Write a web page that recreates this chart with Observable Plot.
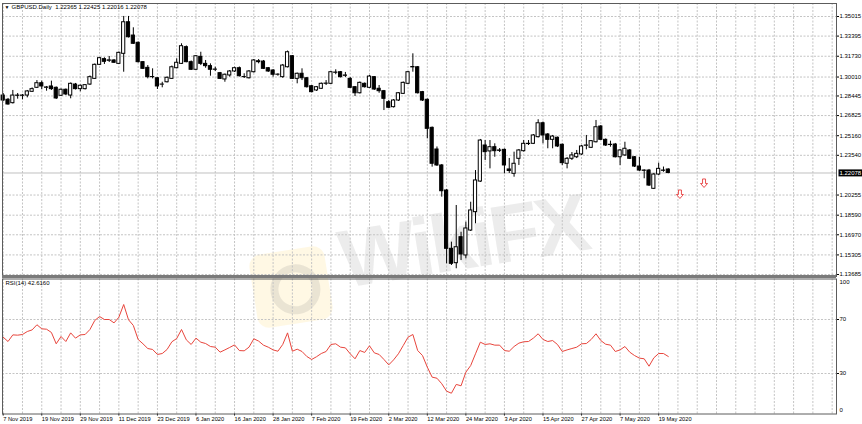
<!DOCTYPE html>
<html>
<head>
<meta charset="utf-8">
<script src="https://cdn.jsdelivr.net/npm/d3@7"></script>
<script src="https://cdn.jsdelivr.net/npm/@observablehq/plot@0.6"></script>
<style>
  body { margin: 0; background: #fff; }
  #chart { position: relative; width: 862px; height: 424px; overflow: hidden; }
  #chart svg { position: absolute; left: 0; }
  .wm { position: absolute; pointer-events: none; }
  #wm-logo { left: 253px; top: 250px; width: 76px; height: 74px; border-radius: 12px;
    background: rgba(255, 214, 90, 0.16); transform: rotate(-9deg); }
  #wm-logo::after { content: ""; position: absolute; left: 17px; top: 15px; width: 34px; height: 34px;
    border-radius: 50%; border: 8px solid rgba(130, 130, 130, 0.17); }
  #wm-text { left: 338px; top: 194px; font: 900 82px "Liberation Sans", Arial, sans-serif;
    color: rgba(160, 160, 160, 0.2); transform: rotate(-9deg); letter-spacing: -4px; }
</style>
</head>
<body>
<div id="chart">
  <div class="wm" id="wm-logo"></div>
  <div class="wm" id="wm-text">WikiFX</div>
</div>
<script>
// GBPUSD daily bars, 7 Nov 2019 .. 21 May 2020 (one entry per trading day)
const opens = [
  1.2848,1.2813,1.2785,1.2848,1.2846,1.2848,1.2879,1.2912,1.2950,1.2912,
  1.2923,1.2912,1.2846,1.2896,1.2848,1.2939,1.2901,1.2901,1.2939,1.2986,
  1.3102,1.3149,1.3135,1.3138,1.3110,1.3193,1.3454,1.3344,1.3284,1.3124,
  1.3077,1.3000,1.2991,1.2938,1.2958,1.2986,1.3074,1.3110,1.3248,1.3124,
  1.3061,1.3168,1.3110,1.3091,1.3061,1.3033,1.2981,1.3014,1.3047,1.3074,
  1.3000,1.2991,1.3041,1.3124,1.3129,1.3074,1.3055,1.3020,1.3000,1.3082,
  1.3173,1.2986,1.3028,1.2991,1.2925,1.2890,1.2904,1.2945,1.2945,1.3036,
  1.3041,1.3011,1.2986,1.2917,1.2867,1.2945,1.2912,1.3000,1.2904,1.2884,
  1.2793,1.2752,1.2807,1.2862,1.2945,1.3081,1.3082,1.2876,1.2813,1.2581,
  1.2402,1.2270,1.2063,1.1581,1.1462,1.1677,1.1526,1.1732,1.1884,1.2137,
  1.2435,1.2386,1.2421,1.2394,1.2399,1.2237,1.2201,1.2325,1.2388,1.2447,
  1.2449,1.2504,1.2619,1.2526,1.2482,1.2499,1.2441,1.2284,1.2325,1.2338,
  1.2361,1.2433,1.2416,1.2462,1.2592,1.2482,1.2441,1.2443,1.2338,1.2353,
  1.2394,1.2338,1.2261,1.2228,1.2228,1.2077,1.2195,1.2228,1.22365
];
const highs = [
  1.2865,1.2824,1.2890,1.2865,1.2857,1.2890,1.2911,1.2972,1.2967,1.2923,
  1.2967,1.2919,1.2902,1.2902,1.2952,1.2948,1.2935,1.2939,1.3010,1.3109,
  1.3163,1.3160,1.3171,1.3146,1.3208,1.3502,1.3502,1.3408,1.3291,1.3129,
  1.3096,1.3069,1.2997,1.2958,1.3001,1.3092,1.3152,1.3276,1.3258,1.3134,
  1.3179,1.3206,1.3138,1.3110,1.3082,1.3039,1.3026,1.3055,1.3082,1.3084,
  1.3028,1.3055,1.3146,1.3146,1.3138,1.3080,1.3063,1.3028,1.3105,1.3216,
  1.3179,1.3034,1.3069,1.2997,1.2931,1.2923,1.2952,1.2972,1.3047,1.3061,
  1.3047,1.3039,1.2997,1.2923,1.2960,1.2952,1.3014,1.3005,1.2931,1.2890,
  1.2807,1.2815,1.2873,1.2960,1.3047,1.3193,1.3088,1.2882,1.2820,1.2588,
  1.2423,1.2278,1.2071,1.1636,1.1939,1.1718,1.1801,1.1966,1.2228,1.2485,
  1.2476,1.2476,1.2449,1.2410,1.2406,1.2328,1.2380,1.2402,1.2476,1.2476,
  1.2526,1.2648,1.2629,1.2534,1.2518,1.2505,1.2447,1.2336,1.2377,1.2394,
  1.2435,1.2518,1.2476,1.2642,1.2600,1.2489,1.2471,1.2452,1.2402,1.2462,
  1.2402,1.2344,1.2338,1.2234,1.2237,1.2204,1.2289,1.2257,1.22425
];
const lows = [
  1.2799,1.2768,1.2778,1.2818,1.2813,1.2829,1.2873,1.2906,1.2896,1.2884,
  1.2890,1.2815,1.2840,1.2848,1.2821,1.2894,1.2879,1.2894,1.2931,1.2981,
  1.3096,1.3105,1.3121,1.3113,1.3105,1.3041,1.3324,1.3270,1.3117,1.3063,
  1.2986,1.2986,1.2898,1.2912,1.2952,1.2981,1.3069,1.3105,1.3119,1.3055,
  1.3055,1.3096,1.3074,1.3008,1.3047,1.2981,1.2958,1.3000,1.3039,1.3001,
  1.2989,1.2985,1.3034,1.3110,1.3063,1.3039,1.3000,1.3008,1.2991,1.3076,
  1.2981,1.2945,1.2972,1.2910,1.2871,1.2882,1.2898,1.2931,1.2939,1.3020,
  1.2993,1.2997,1.2906,1.2840,1.2861,1.2910,1.2906,1.2890,1.2867,1.2724,
  1.2741,1.2745,1.2799,1.2857,1.2939,1.3041,1.2861,1.2799,1.2490,1.2256,
  1.2262,1.2008,1.1457,1.1443,1.1416,1.1484,1.1498,1.1724,1.1788,1.2129,
  1.2311,1.2242,1.2338,1.2377,1.2201,1.2204,1.2173,1.2270,1.2381,1.2435,
  1.2443,1.2497,1.2449,1.2408,1.2408,1.2418,1.2270,1.2242,1.2311,1.2327,
  1.2353,1.2399,1.2410,1.2456,1.2476,1.2427,1.2421,1.2332,1.2270,1.2344,
  1.2319,1.2253,1.2220,1.2160,1.2096,1.2071,1.2187,1.2214,1.22016
];
const closes = [
  1.2807,1.2774,1.2848,1.2846,1.2848,1.2882,1.2901,1.2950,1.2923,1.2915,
  1.2901,1.2824,1.2896,1.2857,1.2945,1.2901,1.2929,1.2934,1.3000,1.3102,
  1.3157,1.3127,1.3139,1.3119,1.3201,1.3454,1.3330,1.3276,1.3124,1.3069,
  1.3000,1.3001,1.2923,1.2939,1.2995,1.3082,1.3119,1.3256,1.3124,1.3061,
  1.3173,1.3110,1.3091,1.3061,1.3063,1.2986,1.3020,1.3047,1.3074,1.3008,
  1.3001,1.3047,1.3138,1.3132,1.3069,1.3047,1.3020,1.3021,1.3096,1.3206,
  1.2986,1.3028,1.2991,1.2917,1.2876,1.2917,1.2945,1.2947,1.3041,1.3038,
  1.3000,1.3014,1.2912,1.2867,1.2953,1.2917,1.3005,1.2898,1.2884,1.2821,
  1.2747,1.2807,1.2867,1.2953,1.3041,1.3084,1.2867,1.2807,1.2573,1.2284,
  1.2270,1.2057,1.1581,1.1457,1.1594,1.1534,1.1749,1.1898,1.2146,1.2476,
  1.2380,1.2421,1.2388,1.2391,1.2270,1.2224,1.2284,1.2394,1.2449,1.2449,
  1.2518,1.2619,1.2518,1.2482,1.2509,1.2427,1.2289,1.2325,1.2353,1.2366,
  1.2427,1.2435,1.2471,1.2586,1.2482,1.2435,1.2439,1.2338,1.2394,1.2408,
  1.2325,1.2261,1.2228,1.2226,1.2104,1.2195,1.2242,1.2226,1.22078
];
// RSI(14), one value per bar
const rsi = [
  56.9,53.7,58.6,58.4,58.9,61.1,62.3,66.1,63.1,62.8,
  60.4,52.0,57.4,53.7,60.1,56.2,58.6,58.9,62.6,69.3,
  72.2,70.0,70.0,67.5,71.7,81.1,69.8,65.6,55.2,52.0,
  48.5,47.8,44.1,44.8,47.8,53.5,55.9,62.6,54.9,51.5,
  56.2,53.2,52.2,50.0,49.5,45.8,47.5,49.3,51.2,47.0,
  46.8,49.5,55.7,54.0,51.0,49.5,47.5,46.5,51.5,60.1,
  46.5,48.0,46.3,42.6,40.4,42.4,44.8,46.3,51.5,52.0,
  49.5,49.0,44.6,40.9,47.0,45.6,50.5,45.3,44.1,40.4,
  36.4,40.1,44.6,50.7,56.9,58.9,47.0,43.3,34.7,27.3,
  26.5,22.4,16.9,15.4,21.9,20.9,31.0,35.9,44.6,53.2,
  51.5,52.0,51.0,51.0,47.0,46.5,50.0,52.5,53.5,53.7,
  56.2,59.4,55.2,53.7,54.4,51.5,46.3,47.5,48.5,49.5,
  52.0,52.2,55.2,59.4,54.4,51.7,51.0,46.3,47.5,50.0,
  45.8,43.3,41.4,40.9,35.4,41.6,44.8,44.8,42.6
];
// time labels, one every 8 bars
const dateLabels = [
  "7 Nov 2019", "19 Nov 2019", "29 Nov 2019", "11 Dec 2019", "23 Dec 2019",
  "6 Jan 2020", "16 Jan 2020", "28 Jan 2020", "7 Feb 2020", "19 Feb 2020",
  "2 Mar 2020", "12 Mar 2020", "24 Mar 2020", "3 Apr 2020", "15 Apr 2020",
  "27 Apr 2020", "7 May 2020", "19 May 2020"
];
const priceTicks = [1.35015, 1.33395, 1.31730, 1.30010, 1.28445, 1.26825, 1.25160,
  1.23540, 1.20255, 1.18590, 1.16970, 1.15305, 1.13685];
const rsiLevels = [30, 70];
// signal arrows drawn right of the last bar
const arrowBars = [140, 145];
const arrowPrices = [1.2030, 1.2121];

const titleText = "GBPUSD.Daily  1.22365 1.22425 1.22016 1.22078";
const rsiTitle = "RSI(14) 42.6160";

const bars = opens.map((o, i) => ({ i, open: o, high: highs[i], low: lows[i], close: closes[i] }));
const up = bars.filter((d) => d.close >= d.open);
const down = bars.filter((d) => d.close < d.open);
const last = bars[bars.length - 1];

// hollow "down" arrow like the terminal's sell signal
const downArrow = {
  draw(context) {
    context.moveTo(-1.5, -4.5);
    context.lineTo(1.5, -4.5);
    context.lineTo(1.5, 0);
    context.lineTo(3.5, 0);
    context.lineTo(0, 4);
    context.lineTo(-3.5, 0);
    context.lineTo(-1.5, 0);
    context.closePath();
  },
};

const xDomain = [-0.145, 172.9]; // room on the right for future bars
const gridBars = d3.range(0, 173, 4);
const labelBars = dateLabels.map((_, k) => k * 8);
const grid = { stroke: "#c4c4c4", strokeOpacity: 1, strokeDasharray: "2,1.5" };
const style = {
  fontFamily: "'Liberation Sans', Arial, sans-serif",
  fontSize: "6px",
  background: "transparent",
  color: "#000",
  overflow: "visible",
};
const halfBody = 0.33;

const priceChart = Plot.plot({
  width: 862,
  height: 278,
  marginTop: 3,
  marginBottom: 2,
  marginLeft: 2,
  marginRight: 26,
  style,
  x: { domain: xDomain, axis: null },
  y: { domain: [1.1352, 1.3609], axis: null },
  marks: [
    Plot.gridX(gridBars, grid),
    Plot.gridY(priceTicks, grid),
    Plot.ruleY([last.close], { stroke: "#c0c0c0" }),
    Plot.ruleX(bars, { x: "i", y1: "low", y2: "high", stroke: "#000" }),
    Plot.rect(up, {
      x1: (d) => d.i - halfBody,
      x2: (d) => d.i + halfBody,
      y1: "open",
      y2: "close",
      fill: "#fff",
      stroke: "#000",
    }),
    Plot.rect(down, {
      x1: (d) => d.i - halfBody,
      x2: (d) => d.i + halfBody,
      y1: "open",
      y2: "close",
      fill: "#000",
      stroke: "#000",
    }),
    Plot.dot(arrowBars, {
      x: (d) => d,
      y: (d, k) => arrowPrices[k],
      symbol: downArrow,
      stroke: "#e63c3c",
      fill: "#fff",
      strokeWidth: 0.9,
      dx: 2,
    }),
    Plot.axisY(priceTicks, {
      anchor: "right",
      tickSize: 2,
      tickPadding: 1,
      tickFormat: (d) => d.toFixed(5),
    }),
    Plot.text([last.close], {
      y: (d) => d,
      frameAnchor: "right",
      textAnchor: "start",
      dx: 3,
      text: (d) => d.toFixed(5),
      fill: "#fff",
      className: "bid-label",
    }),
    Plot.text(["\u25bc"], { frameAnchor: "top-left", text: (d) => d, dx: 2, dy: 2, fontSize: 5 }),
    Plot.text([titleText], { frameAnchor: "top-left", text: (d) => d, dx: 9, dy: 1.5 }),
    Plot.frame({ stroke: "#5c5c5c" }),
    Plot.ruleY([1.1352], { stroke: "#7a7a7a", strokeWidth: 3 }),
  ],
});

const rsiChart = Plot.plot({
  width: 862,
  height: 148,
  marginTop: 2.5,
  marginBottom: 10.5,
  marginLeft: 2,
  marginRight: 26,
  style,
  x: { domain: xDomain, axis: null },
  y: { domain: [0, 100], axis: null },
  marks: [
    Plot.gridX(gridBars, grid),
    Plot.gridY(rsiLevels, grid),
    Plot.lineY(rsi, { x: (d, i) => i, y: (d) => d, stroke: "#e8453c", strokeWidth: 1 }),
    Plot.axisX(labelBars, {
      anchor: "bottom",
      tickSize: 2,
      tickPadding: 1,
      textAnchor: "start",
      fontSize: 5.7,
      tickFormat: (d) => dateLabels[d / 8],
    }),
    Plot.axisY(rsiLevels, { anchor: "right", tickSize: 2, tickPadding: 1 }),
    Plot.axisY([100], { anchor: "right", tickSize: 0, tickPadding: 3, dy: 3 }),
    Plot.axisY([0], { anchor: "right", tickSize: 0, tickPadding: 3, dy: -4 }),
    Plot.text([rsiTitle], { frameAnchor: "top-left", text: (d) => d, dx: 3, dy: 2 }),
    Plot.frame({ stroke: "#5c5c5c" }),
  ],
});

const chart = document.getElementById("chart");
priceChart.style.top = "0px";
rsiChart.style.top = "276px";
chart.appendChild(priceChart);
chart.appendChild(rsiChart);

// black box behind the current price on the price scale
const bid = priceChart.querySelector(".bid-label text");
if (bid) {
  const bb = bid.getBBox();
  const box = document.createElementNS("http://www.w3.org/2000/svg", "rect");
  box.setAttribute("x", bb.x - 1);
  box.setAttribute("y", bb.y - 0.5);
  box.setAttribute("width", bb.width + 2);
  box.setAttribute("height", bb.height + 1);
  box.setAttribute("fill", "#000");
  if (bid.getAttribute("transform")) box.setAttribute("transform", bid.getAttribute("transform"));
  bid.parentNode.insertBefore(box, bid);
}
</script>
</body>
</html>
